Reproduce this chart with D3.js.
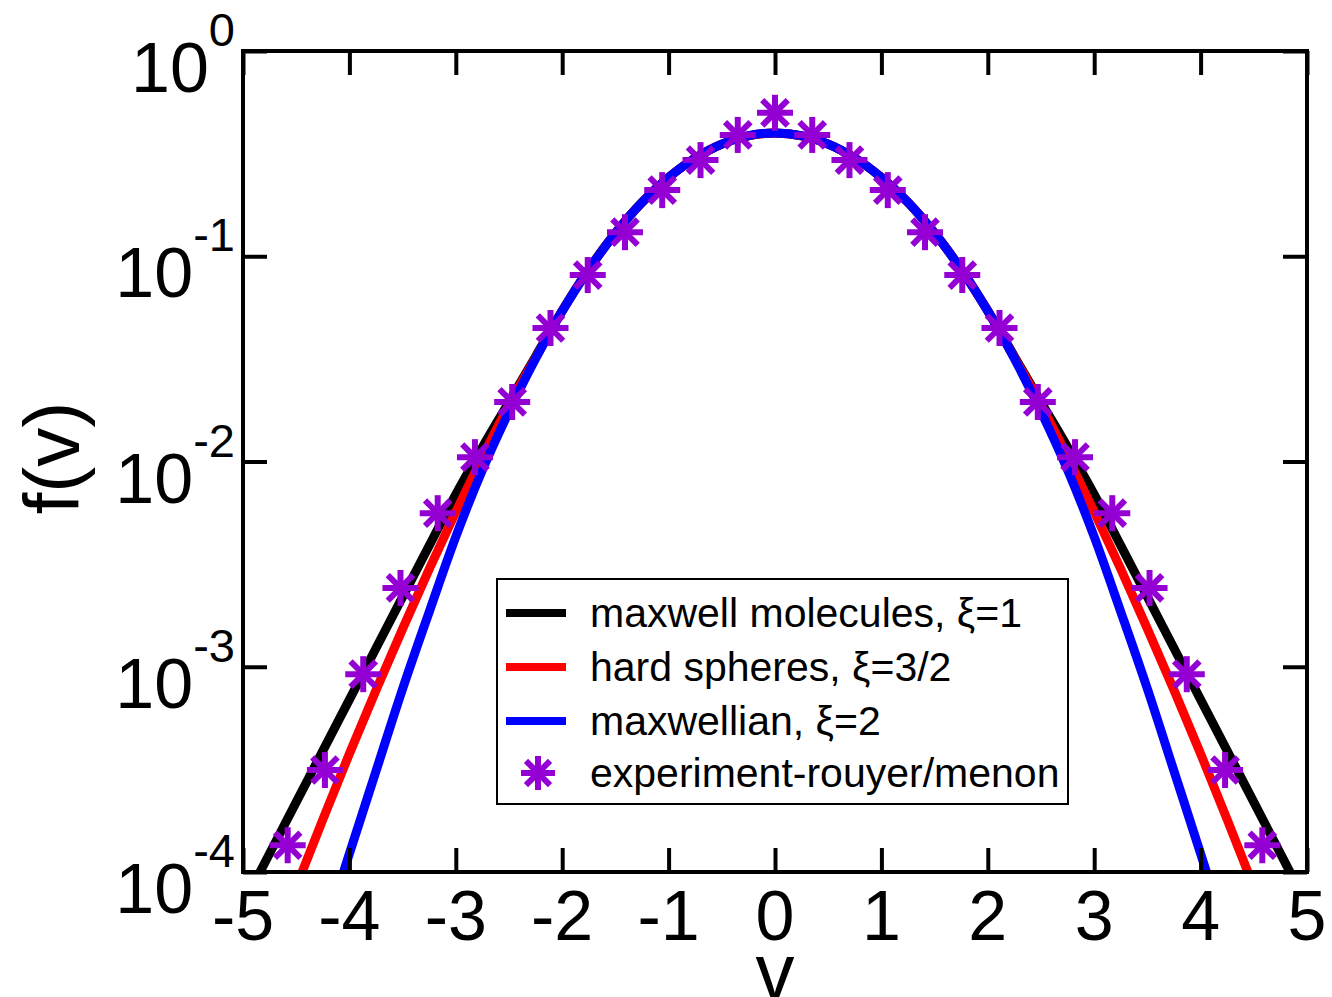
<!DOCTYPE html>
<html>
<head>
<meta charset="utf-8">
<script src="https://cdn.jsdelivr.net/npm/d3@7"></script>
<style>
  html, body { margin: 0; padding: 0; background: #fff; }
  svg { display: block; }
  text { font-family: "Liberation Sans", Arial, Helvetica, sans-serif; fill: #000; }
</style>
</head>
<body>
<svg id="chart" width="1332" height="997"></svg>
<script>
// Velocity grid for the model curves
const vGrid = [-5, -4.75, -4.5, -4.25, -4, -3.75, -3.5, -3.25, -3, -2.75, -2.5, -2.25, -2, -1.75, -1.5, -1.25, -1, -0.75, -0.5, -0.25,
  0, 0.25, 0.5, 0.75, 1, 1.25, 1.5, 1.75, 2, 2.25, 2.5, 2.75, 3, 3.25, 3.5, 3.75, 4, 4.25, 4.5, 4.75, 5];

// maxwell molecules, xi = 1
const fMaxwellMolecules = [6.92e-5, 1.23e-4, 2.19e-4, 3.89e-4, 6.92e-4, 1.23e-3, 2.19e-3, 3.89e-3, 6.92e-3, 1.175e-2, 1.95e-2, 3.25e-2, 5.43e-2, 8.65e-2, 0.130, 0.183, 0.242, 0.301, 0.352, 0.386,
  0.398, 0.386, 0.352, 0.301, 0.242, 0.183, 0.130, 8.65e-2, 5.43e-2, 3.25e-2, 1.95e-2, 1.175e-2, 6.92e-3, 3.89e-3, 2.19e-3, 1.23e-3, 6.92e-4, 3.89e-4, 2.19e-4, 1.23e-4, 6.92e-5];

// hard spheres, xi = 3/2
const fHardSpheres = [1.7e-5, 3.9e-5, 8.45e-5, 1.80e-4, 3.77e-4, 7.69e-4, 1.53e-3, 2.99e-3, 5.68e-3, 1.05e-2, 1.888e-2, 3.20e-2, 5.41e-2, 8.64e-2, 0.1297, 0.183, 0.242, 0.301, 0.352, 0.386,
  0.398, 0.386, 0.352, 0.301, 0.242, 0.183, 0.1297, 8.64e-2, 5.41e-2, 3.20e-2, 1.888e-2, 1.05e-2, 5.68e-3, 2.99e-3, 1.53e-3, 7.69e-4, 3.77e-4, 1.80e-4, 8.45e-5, 3.9e-5, 1.7e-5];

// maxwellian, xi = 2
const fMaxwellian = [1.5e-6, 5.0e-6, 1.6e-5, 4.7e-5, 1.23e-4, 3.1e-4, 7.8e-4, 1.85e-3, 4.3e-3, 9.09e-3, 1.75e-2, 3.17e-2, 5.40e-2, 8.63e-2, 0.1295, 0.183, 0.242, 0.301, 0.352, 0.387,
  0.399, 0.387, 0.352, 0.301, 0.242, 0.183, 0.1295, 8.63e-2, 5.40e-2, 3.17e-2, 1.75e-2, 9.09e-3, 4.3e-3, 1.85e-3, 7.8e-4, 3.1e-4, 1.23e-4, 4.7e-5, 1.6e-5, 5.0e-6, 1.5e-6];

// experiment (Rouyer / Menon)
const vExp = [-4.58, -4.23, -3.87, -3.52, -3.17, -2.82, -2.47, -2.11, -1.76, -1.41, -1.06, -0.70, -0.35, 0,
  0.35, 0.70, 1.06, 1.41, 1.76, 2.11, 2.47, 2.82, 3.17, 3.52, 3.87, 4.23, 4.58];
const fExp = [1.35e-4, 3.14e-4, 9.2e-4, 2.42e-3, 5.6e-3, 1.05e-2, 1.95e-2, 4.47e-2, 8.1e-2, 0.131, 0.210, 0.294, 0.39, 0.50,
  0.39, 0.294, 0.210, 0.131, 8.1e-2, 4.47e-2, 1.95e-2, 1.05e-2, 5.6e-3, 2.42e-3, 9.2e-4, 3.14e-4, 1.35e-4];

const xTicks = [-5, -4, -3, -2, -1, 0, 1, 2, 3, 4, 5];
const yTicks = [1, 1e-1, 1e-2, 1e-3, 1e-4];
const yTickExponents = ["0", "-1", "-2", "-3", "-4"];

const legendLabels = ["maxwell molecules, \u03BE=1", "hard spheres, \u03BE=3/2", "maxwellian, \u03BE=2", "experiment-rouyer/menon"];

// ---- layout ----
const svg = d3.select("#chart");
const plot = { left: 243, right: 1307, top: 51, bottom: 872 };
const x = d3.scaleLinear().domain([-5, 5]).range([plot.left, plot.right]);
const y = d3.scaleLog().domain([1e-4, 1]).range([plot.bottom, plot.top]);

const violet = "rgb(148,0,211)";
const series = [
  { f: fMaxwellMolecules, color: "#000000" },
  { f: fHardSpheres, color: "#ff0000" },
  { f: fMaxwellian, color: "#0000ff" }
];

svg.append("defs").append("clipPath").attr("id", "plotClip")
  .append("rect")
  .attr("x", plot.left).attr("y", plot.top)
  .attr("width", plot.right - plot.left).attr("height", plot.bottom - plot.top);

const line = d3.line()
  .x(d => x(d[0]))
  .y(d => y(d[1]))
  .curve(d3.curveCatmullRom.alpha(0.5));

const curves = svg.append("g").attr("clip-path", "url(#plotClip)");
series.forEach(s => {
  curves.append("path")
    .datum(vGrid.map((v, i) => [v, s.f[i]]))
    .attr("d", line)
    .attr("fill", "none")
    .attr("stroke", s.color)
    .attr("stroke-width", 9)
    .attr("stroke-linejoin", "round");
});

// asterisk marker
function star(g, cx, cy, r, w) {
  const a = r * Math.SQRT1_2;
  const segs = [[-r, 0, r, 0], [0, -r, 0, r], [-a, -a, a, a], [-a, a, a, -a]];
  const s = g.append("g").attr("transform", `translate(${cx},${cy})`);
  segs.forEach(p => s.append("line")
    .attr("x1", p[0]).attr("y1", p[1]).attr("x2", p[2]).attr("y2", p[3])
    .attr("stroke", violet).attr("stroke-width", w));
}
const stars = svg.append("g");
vExp.forEach((v, i) => star(stars, x(v), y(fExp[i]), 18, 6));

// ---- axes: frame with inward ticks on all four sides ----
const axes = svg.append("g");
const tickLen = 24;
const bottomAxis = d3.axisBottom(x).tickValues(xTicks).tickSizeInner(-tickLen).tickSizeOuter(0).tickFormat("");
const topAxis = d3.axisTop(x).tickValues(xTicks).tickSizeInner(-tickLen).tickSizeOuter(0).tickFormat("");
const leftAxis = d3.axisLeft(y).tickValues(yTicks).tickSizeInner(-tickLen).tickSizeOuter(0).tickFormat("");
const rightAxis = d3.axisRight(y).tickValues(yTicks).tickSizeInner(-tickLen).tickSizeOuter(0).tickFormat("");
[[bottomAxis, `translate(0,${plot.bottom})`], [topAxis, `translate(0,${plot.top})`],
 [leftAxis, `translate(${plot.left},0)`], [rightAxis, `translate(${plot.right},0)`]].forEach(([ax, tr]) => {
  const g = axes.append("g").attr("transform", tr).call(ax);
  g.select(".domain").remove();
  g.selectAll(".tick line").attr("stroke", "#000").attr("stroke-width", 4);
});
axes.append("rect")
  .attr("x", plot.left).attr("y", plot.top)
  .attr("width", plot.right - plot.left).attr("height", plot.bottom - plot.top)
  .attr("fill", "none").attr("stroke", "#000").attr("stroke-width", 4);

// x tick labels
svg.append("g").selectAll("text").data(xTicks).join("text")
  .attr("x", d => x(d)).attr("y", 940)
  .attr("text-anchor", "middle")
  .attr("font-size", 70)
  .text(d => d < 0 ? "-" + Math.abs(d) : String(d));

// y tick labels: 10 with superscript exponent
const yl = svg.append("g").selectAll("text").data(yTicks).join("text")
  .attr("x", 235).attr("y", d => y(d) + 41)
  .attr("text-anchor", "end");
yl.append("tspan").attr("font-size", 70).text("10");
yl.append("tspan").attr("font-size", 47).attr("dy", -46).text((d, i) => yTickExponents[i]);

// axis titles
svg.append("text")
  .attr("transform", `translate(79,458) rotate(-90)`)
  .attr("text-anchor", "middle")
  .attr("font-size", 78)
  .text("f(v)");
svg.append("text")
  .attr("x", x(0)).attr("y", 998)
  .attr("text-anchor", "middle")
  .attr("font-size", 78)
  .text("v");

// ---- legend ----
const legend = svg.append("g");
legend.append("rect")
  .attr("x", 497).attr("y", 579).attr("width", 571).attr("height", 225)
  .attr("fill", "#fff").attr("stroke", "#000").attr("stroke-width", 2);
const rowY = [613, 667, 721, 773];
series.forEach((s, i) => {
  legend.append("line")
    .attr("x1", 506).attr("x2", 566).attr("y1", rowY[i]).attr("y2", rowY[i])
    .attr("stroke", s.color).attr("stroke-width", 8);
});
star(legend, 538, rowY[3], 17, 6);
legendLabels.forEach((t, i) => {
  legend.append("text")
    .attr("x", 590).attr("y", rowY[i] + 14)
    .attr("font-size", 41)
    .text(t);
});
</script>
</body>
</html>
